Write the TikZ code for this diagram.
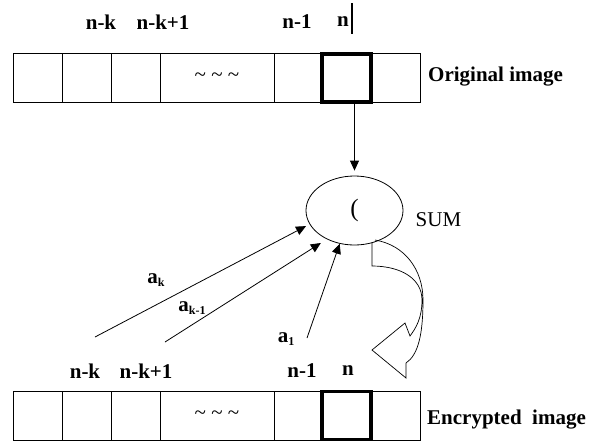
\documentclass[tikz,border=0pt]{standalone}
\usepackage{fontspec}
\setmainfont{Liberation Serif}
\usetikzlibrary{shapes.geometric,arrows.meta}
\tikzstyle{cell}=[draw=black,line width=0.8pt,minimum height=49pt,inner sep=0pt,font=\fontsize{21}{24}\selectfont]
\tikzstyle{thickcell}=[cell,line width=3.5pt,minimum width=49pt,minimum height=48pt]
\tikzstyle{lab}=[inner sep=0pt,font=\fontsize{21}{24}\selectfont\bfseries]
\tikzstyle{plain}=[inner sep=0pt,font=\fontsize{21}{24}\selectfont]
\tikzstyle{sumnode}=[draw=black,line width=0.8pt,ellipse,minimum width=97pt,minimum height=69pt,inner sep=0pt,font=\fontsize{25}{25}\selectfont]
\tikzstyle{tip}=[-{Triangle[length=10pt,width=9pt]},line width=0.8pt]
\newcommand{\sub}[1]{\raisebox{-3pt}{\fontsize{12}{12}\selectfont #1}}

\begin{document}
\begin{tikzpicture}[x=1pt, y=-1pt]
	\useasboundingbox (0,0) rectangle (591,445);
	\node[cell, minimum width=49pt] (o1) at (37.5,77.5) {};
	\node[cell, minimum width=49pt] (o2) at (86.5,77.5) {};
	\node[cell, minimum width=49pt] (o3) at (135.5,77.5) {};
	\node[cell, minimum width=114pt] (o4) at (217,77.5) {\~{} \~{} \~{}};
	\node[cell, minimum width=48pt] (o5) at (298,77.5) {};
	\node[cell, minimum width=49pt] (o7) at (395.5,77.5) {};
	\node[thickcell] (o6) at (346.5,78) {};
	\node[cell, minimum width=49pt] (e1) at (37.5,415.5) {};
	\node[cell, minimum width=49pt] (e2) at (86.5,415.5) {};
	\node[cell, minimum width=49pt] (e3) at (135.5,415.5) {};
	\node[cell, minimum width=114pt] (e4) at (217,415.5) {\~{} \~{} \~{}};
	\node[cell, minimum width=48pt] (e5) at (298,415.5) {};
	\node[cell, minimum width=49pt] (e7) at (395.5,415.5) {};
	\node[thickcell] (e6) at (346.5,415.5) {};
	\node[lab] (onk) at (101,22) {n-k};
	\node[lab] (onk1) at (163,22) {n-k+1};
	\node[lab] (on1) at (297,22) {n-1};
	\node[lab] (on) at (343,22) {n};
	\node[lab] (enk) at (85,371) {n-k};
	\node[lab] (enk1) at (146,371) {n-k+1};
	\node[lab] (en1) at (302,371) {n-1};
	\node[lab] (en) at (348,371) {n};
	\node[lab, anchor=west] (origlab) at (428,77) {Original image};
	\node[lab, anchor=west] (enclab) at (427,420) {Encrypted\ \ image};
	\node[sumnode] (sum) at (354.5,210.5) {\raisebox{-7pt}{(}};
	\node[plain] (sumlab) at (438.5,220) {SUM};
	\node[lab] (ak) at (156,280) {a\sub{k}};
	\node[lab] (ak1) at (192,308) {a\sub{k-1}};
	\node[lab] (a1) at (286,339) {a\sub{1}};
	\coordinate (cursor) at (352,3);
	\coordinate (akstart) at (95,337);
	\coordinate (ak1start) at (165,342);
	\coordinate (a1start) at (307,338);
	\draw[line width=1.5pt] (cursor) -- ++(0,31);
	\draw[tip, shorten >=5pt] (sum.north |- o6.south) -- (sum.north);
	\draw[tip, shorten >=4pt] (akstart) -- (sum.197);
	\draw[tip, shorten >=7pt] (ak1start) -- (sum.226);
	\draw[tip] (a1start) -- (sum.246);
	\draw[line width=0.7pt] (372,243) -- (372,266) .. controls (400,266) and (422,278) .. (422,300) .. controls (422,318) and (416,328) .. (410,336) -- (405,323) -- (372,350) -- (406,378) -- (406,363) .. controls (418,355) and (423,335) .. (423,300) .. controls (423,270) and (405,245) .. (375,240);
\end{tikzpicture}
\end{document}
